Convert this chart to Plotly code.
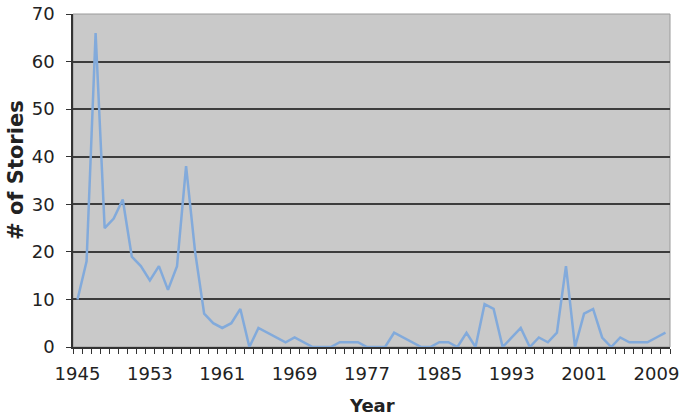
import plotly.graph_objects as go

years = list(range(1945, 2011))
stories = [10, 18, 66, 25, 27, 31, 19, 17, 14, 17,
           12, 17, 38, 20, 7, 5, 4, 5, 8, 0,
           4, 3, 2, 1, 2, 1, 0, 0, 0, 1,
           1, 1, 0, 0, 0, 3, 2, 1, 0, 0,
           1, 1, 0, 3, 0, 9, 8, 0, 2, 4,
           0, 2, 1, 3, 17, 0, 7, 8, 2, 0,
           2, 1, 1, 1, 2, 3]
x_tick_labels = [1945, 1953, 1961, 1969, 1977, 1985, 1993, 2001, 2009]
y_ticks = [0, 10, 20, 30, 40, 50, 60, 70]

L, R, T, B = 73, 12, 14, 69
W, H = 682, 416
PW, PH = W - L - R, H - T - B

fig = go.Figure()
fig.add_trace(go.Scatter(
    x=years, y=stories, mode="lines",
    line=dict(color="#82aadb", width=2.5),
    hoverinfo="x+y",
))

fig.update_layout(
    width=W, height=H,
    margin=dict(l=L, r=R, t=T, b=B, autoexpand=False),
    paper_bgcolor="white",
    plot_bgcolor="#c9c9c9",
    showlegend=False,
    font=dict(family="DejaVu Sans", size=18, color="#222222"),
)

fig.update_xaxes(
    automargin=False,
    range=[1944.5, 2010.5],
    tickmode="array", tickvals=x_tick_labels,
    ticktext=[str(v) for v in x_tick_labels],
    ticks="", showgrid=False,
    showline=True, linecolor="#333333", linewidth=1.5,
    minor=dict(ticks="outside", tick0=1944.5, dtick=1, ticklen=5,
               tickcolor="#333333", tickwidth=1, showgrid=False),
    ticklabelstandoff=10,
    zeroline=False,
)

fig.update_yaxes(
    automargin=False,
    range=[0, 70],
    tickmode="array", tickvals=y_ticks,
    ticks="outside", ticklen=5, tickcolor="#333333",
    showgrid=True, gridcolor="#3c3c3c", gridwidth=2,
    showline=True, linecolor="#333333", linewidth=1.5,
    ticklabelstandoff=8,
    zeroline=False,
)

# axis titles
fig.add_annotation(text="<b># of Stories</b>", xref="paper", yref="paper",
                   x=(16 - L) / PW, y=(H - B - 170) / PH,
                   xanchor="center", yanchor="middle", textangle=-90,
                   showarrow=False, font=dict(size=21, color="#222222"))
fig.add_annotation(text="<b>Year</b>", xref="paper", yref="paper",
                   x=(372 - L) / PW, y=-(405 - (H - B)) / PH,
                   xanchor="center", yanchor="middle",
                   showarrow=False, font=dict(size=18, color="#222222"))

# thin plot border
fig.add_shape(type="rect", xref="paper", yref="paper", x0=0, y0=0, x1=1, y1=1,
              line=dict(color="#9a9a9a", width=1), layer="below")

fig.write_html("out.html", config={"displayModeBar": False},
               post_script="document.body.style.margin='0';")
